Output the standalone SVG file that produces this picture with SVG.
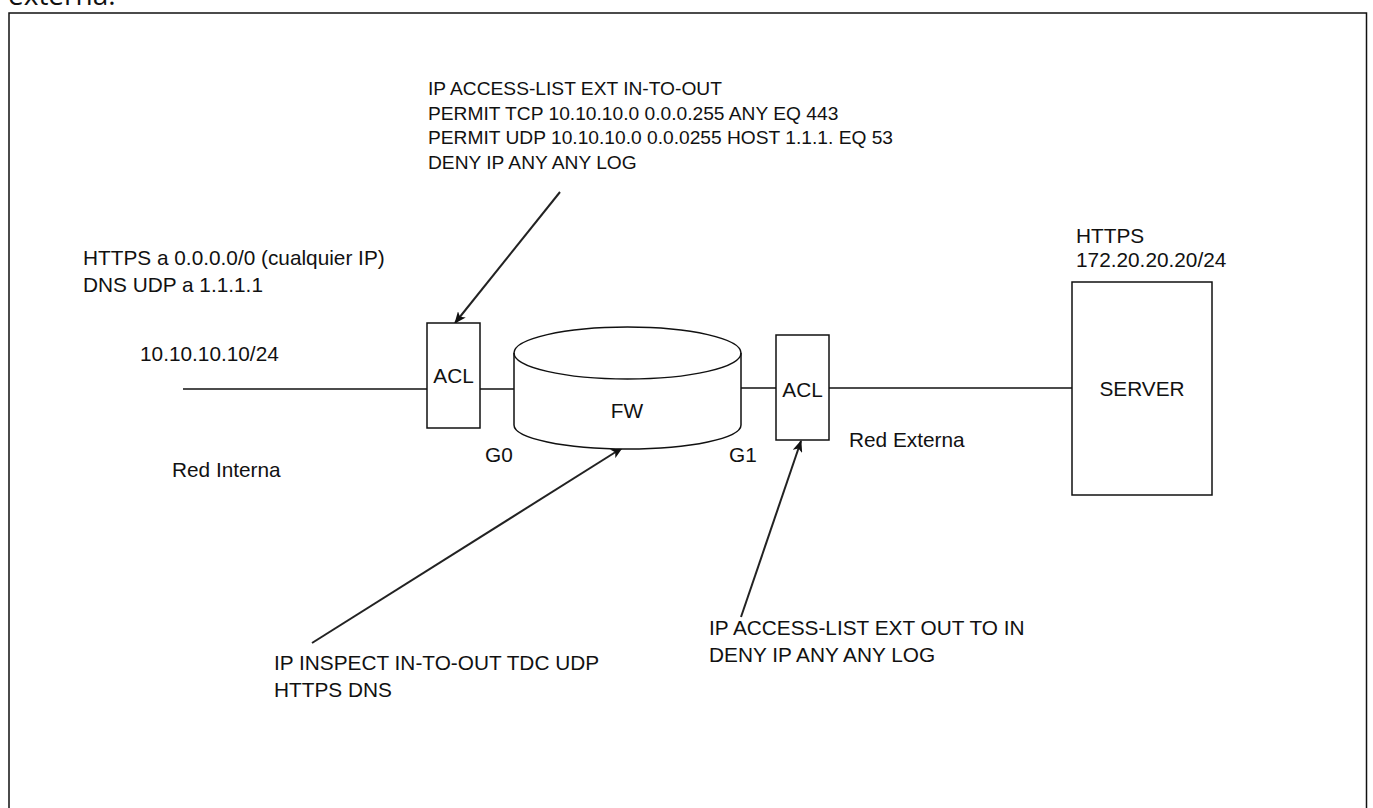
<svg xmlns="http://www.w3.org/2000/svg" width="1373" height="808" viewBox="0 0 1373 808">
<style>
text{font-family:"Liberation Sans",Arial,sans-serif;font-size:20.8px;fill:#111}
.sm{font-size:19.2px}
.box{fill:#fff;stroke:#111;stroke-width:1.5}
.ln{fill:none;stroke:#111;stroke-width:1.5}
.ar{fill:none;stroke:#222;stroke-width:2}
.c{text-anchor:middle}
</style>
<defs>
<marker id="arr" viewBox="0 0 12 10" refX="11" refY="5" markerWidth="12" markerHeight="10" markerUnits="userSpaceOnUse" orient="auto">
<path d="M0,0 L12,5 L0,10 L3,5 Z" fill="#111"/>
</marker>
</defs>
<rect width="1373" height="808" fill="#fff"/>
<text x="8" y="5" style="font-family:'Open Sans','Noto Sans',sans-serif;font-size:28px">externa.</text>
<rect x="9" y="13" width="1357.5" height="820" fill="none" stroke="#111" stroke-width="1.5"/>
<g id="connectors">
<line class="ln" x1="183" y1="389" x2="427" y2="389"/>
<line class="ln" x1="480" y1="389" x2="514" y2="389"/>
<line class="ln" x1="741" y1="388" x2="776" y2="388"/>
<line class="ln" x1="829" y1="388" x2="1072" y2="388"/>
<line class="ar" x1="560" y1="192" x2="455" y2="323" marker-end="url(#arr)"/>
<line class="ar" x1="312" y1="643" x2="622" y2="448" marker-end="url(#arr)"/>
<line class="ar" x1="741" y1="617" x2="801" y2="441" marker-end="url(#arr)"/>
</g>
<g id="acl-in">
<rect class="box" x="427" y="323" width="53" height="105"/>
<text class="c" x="453.5" y="383">ACL</text>
</g>
<g id="fw">
<path class="box" d="M514,353 L514,425 A113.5,24 0 0 0 741,425 L741,353 A113.5,26 0 0 0 514,353 Z"/>
<path class="ln" d="M514,353 A113.5,26 0 0 0 741,353"/>
<text class="c" x="627" y="418">FW</text>
</g>
<g id="acl-out">
<rect class="box" x="776" y="335" width="53" height="105"/>
<text class="c" x="802.5" y="397">ACL</text>
</g>
<g id="server">
<rect class="box" x="1072" y="282" width="140" height="213"/>
<text class="c" x="1142" y="396">SERVER</text>
</g>
<g id="labels">
<text class="sm" x="428" y="95">IP ACCESS-LIST EXT IN-TO-OUT</text>
<text class="sm" x="428" y="119.5">PERMIT TCP 10.10.10.0 0.0.0.255 ANY EQ 443</text>
<text class="sm" x="428" y="144">PERMIT UDP 10.10.10.0 0.0.0255 HOST 1.1.1. EQ 53</text>
<text class="sm" x="428" y="169">DENY IP ANY ANY LOG</text>
<text x="83" y="265">HTTPS a 0.0.0.0/0 (cualquier IP)</text>
<text x="83" y="292">DNS UDP a 1.1.1.1</text>
<text x="140" y="361">10.10.10.10/24</text>
<text x="172" y="477">Red Interna</text>
<text x="485" y="462">G0</text>
<text x="729" y="462">G1</text>
<text x="849" y="447">Red Externa</text>
<text x="1076" y="243">HTTPS</text>
<text x="1076" y="267">172.20.20.20/24</text>
<text x="274" y="670">IP INSPECT IN-TO-OUT TDC UDP</text>
<text x="274" y="697">HTTPS DNS</text>
<text x="709" y="635">IP ACCESS-LIST EXT OUT TO IN</text>
<text x="709" y="662">DENY IP ANY ANY LOG</text>
</g>
</svg>
